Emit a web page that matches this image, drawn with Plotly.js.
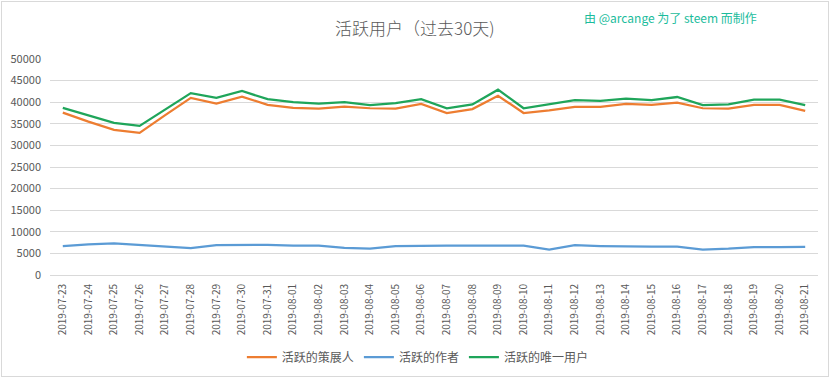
<!DOCTYPE html>
<html>
<head>
<meta charset="utf-8">
<script src="https://cdn.plot.ly/plotly-3.0.1.min.js"></script>
<style>
html,body{margin:0;padding:0;background:#fff;}
#wrap{position:relative;width:833px;height:379px;}
#chart{width:833px;height:379px;}
#frame{position:absolute;left:1px;top:1px;width:826px;height:374px;border:1px solid #d9d9d9;pointer-events:none;}
</style>
</head>
<body>
<div id="wrap"><div id="chart"></div><div id="frame"></div></div>
<script>
const dates = ["2019-07-23","2019-07-24","2019-07-25","2019-07-26","2019-07-27","2019-07-28","2019-07-29","2019-07-30","2019-07-31","2019-08-01","2019-08-02","2019-08-03","2019-08-04","2019-08-05","2019-08-06","2019-08-07","2019-08-08","2019-08-09","2019-08-10","2019-08-11","2019-08-12","2019-08-13","2019-08-14","2019-08-15","2019-08-16","2019-08-17","2019-08-18","2019-08-19","2019-08-20","2019-08-21"];
const curators = [37600,35500,33600,32900,37000,41000,39700,41300,39400,38700,38500,39000,38600,38500,39600,37500,38400,41500,37500,38100,38900,38900,39600,39400,39900,38600,38500,39400,39400,38000];
const authors = [6700,7100,7300,6900,6500,6250,6900,7000,7000,6800,6800,6300,6100,6700,6800,6800,6800,6800,6800,5900,6900,6700,6550,6550,6550,5900,6100,6450,6450,6500];
const uniqueUsers = [38700,36900,35200,34500,38200,42100,41000,42600,40700,40000,39700,40000,39350,39800,40700,38600,39500,42900,38600,39500,40500,40300,40800,40500,41200,39350,39500,40600,40600,39300];
const seriesNames = ["活跃的策展人","活跃的作者","活跃的唯一用户"];
const yTicks = [0,5000,10000,15000,20000,25000,30000,35000,40000,45000,50000];

const font = '"Noto Sans CJK SC", "Noto Sans", sans-serif';
const mk = (y, name, color) => ({x: dates, y: y, name: name, type: 'scatter', mode: 'lines',
  line: {color: color, width: 2.25}, hoverinfo: 'x+y'});
const data = [
  mk(curators, seriesNames[0], '#ED7D31'),
  mk(authors, seriesNames[1], '#5B9BD5'),
  mk(uniqueUsers, seriesNames[2], '#1FA55A')
];
const layout = {
  width: 833, height: 379,
  margin: {l: 50, r: 15, t: 59, b: 104},
  paper_bgcolor: '#fff', plot_bgcolor: '#fff',
  font: {family: font, color: '#595959', size: 11},
  title: {text: '活跃用户（过去30天)', x: 0.498, xanchor: 'center', y: 0.923, yanchor: 'middle',
    font: {family: font, size: 17, color: '#595959', weight: 300}},
  xaxis: {type: 'category', tickangle: -90, tickfont: {size: 10, color: '#595959'}, automargin: false,
    showgrid: false, showline: true, linecolor: '#d9d9d9', linewidth: 1, ticks: '', ticklabelstandoff: 4,
    range: [-0.5, dates.length - 0.5], fixedrange: true},
  yaxis: {range: [0, 50000], tickvals: yTicks, ticktext: yTicks.map(String), automargin: false,
    tickfont: {size: 11, color: '#595959'}, gridcolor: '#d9d9d9', gridwidth: 1,
    zeroline: false, showline: false, ticks: '', ticklabelstandoff: 8, fixedrange: true},
  showlegend: true,
  legend: {orientation: 'h', x: 0.479, xanchor: 'center', yref: 'container', y: 1 - 357/379, yanchor: 'middle',
    font: {size: 12, color: '#595959'}, itemwidth: 30, tracegroupgap: 0},
  annotations: [{text: '由 @arcange 为了 steem 而制作', xref: 'paper', yref: 'paper',
    x: 0.923, xanchor: 'right', y: 1 + 42/216, yanchor: 'middle', showarrow: false,
    font: {family: font, size: 12, color: '#1ABC9C'}}]
};
Plotly.newPlot('chart', data, layout, {displayModeBar: false, staticPlot: true});
</script>
</body>
</html>
